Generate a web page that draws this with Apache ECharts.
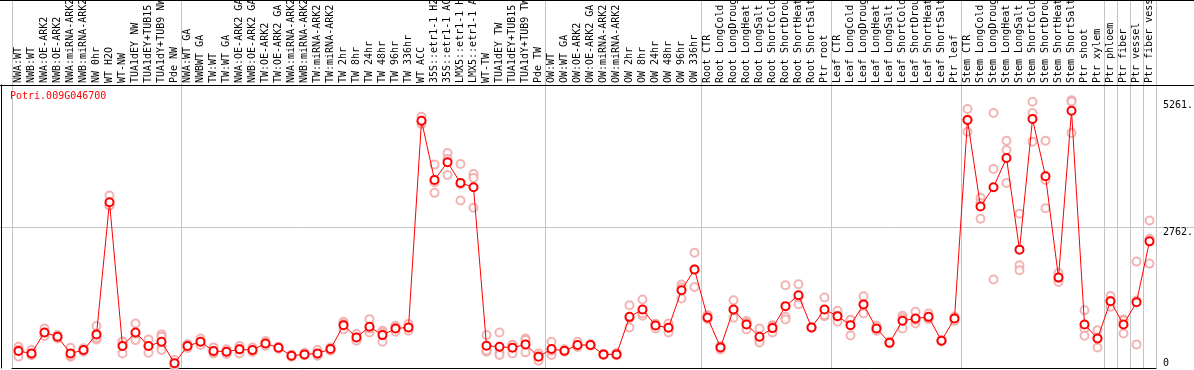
<!DOCTYPE html>
<html>
<head>
<meta charset="utf-8">
<script src="https://cdn.jsdelivr.net/npm/echarts@6/dist/echarts.min.js"></script>
<style>
html,body{margin:0;padding:0;background:#fff;}
#chart{width:1194px;height:370px;}
</style>
</head>
<body>
<div id="chart"></div>
<script>
var geneTitle = 'Potri.009G046700';

var categories = [
  'NWA:WT','NWB:WT','NWA:OE-ARK2','NWB:OE-ARK2','NWA:miRNA-ARK2','NWB:miRNA-ARK2','NW 0hr','WT H2O','WT-NW','TUA1dEY NW','TUA1dEY+TUB15 NW','TUA1dY+TUB9 NW','Pde NW',
  'NWA:WT GA','NWBWT GA','TW:WT','TW:WT GA','NWA:OE-ARK2 GA','NWB:OE-ARK2 GA','TW:OE-ARK2','TW:OE-ARK2 GA','NWA:miRNA-ARK2 GA','NWB:miRNA-ARK2 GA','TW:miRNA-ARK2','TW:miRNA-ARK2 GA',
  'TW 2hr','TW 8hr','TW 24hr','TW 48hr','TW 96hr','TW 336hr','WT ACC','35S::etr1-1 H2O','35S::etr1-1 ACC','LMX5::etr1-1 H2O','LMX5::etr1-1 ACC','WT-TW','TUA1dEY TW','TUA1dEY+TUB15 TW','TUA1dY+TUB9 TW','Pde TW',
  'OW:WT','OW:WT GA','OW:OE-ARK2','OW:OE-ARK2 GA','OW:miRNA-ARK2','OW:miRNA-ARK2 GA','OW 2hr','OW 8hr','OW 24hr','OW 48hr','OW 96hr','OW 336hr',
  'Root CTR','Root LongCold','Root LongDrought','Root LongHeat','Root LongSalt','Root ShortCold','Root ShortDrought','Root ShortHeat','Root ShortSalt','Ptr root',
  'Leaf CTR','Leaf LongCold','Leaf LongDrought','Leaf LongHeat','Leaf LongSalt','Leaf ShortCold','Leaf ShortDrought','Leaf ShortHeat','Leaf ShortSalt','Ptr leaf',
  'Stem CTR','Stem LongCold','Stem LongDrought','Stem LongHeat','Stem LongSalt','Stem ShortCold','Stem ShortDrought','Stem ShortHeat','Stem ShortSalt','Ptr shoot','Ptr xylem',
  'Ptr phloem','Ptr fiber','Ptr vessel','Ptr fiber vessel'
];

// index of the first category of each group (group separator lines)
var groupStarts = [0, 13, 41, 53, 63, 73, 84, 85, 86, 87];

var meanValues = [
  333, 287, 699, 614, 287, 353, 660, 3258, 431, 699, 431, 516, 92,
  431, 516, 333, 320, 366, 353, 483, 398, 242, 267, 287, 372,
  842, 601, 810, 646, 777, 797, 4858, 3696, 4042, 3637, 3552, 437, 418, 398, 464, 222,
  372, 339, 451, 451, 267, 267, 1005, 1149, 836, 790, 1528, 1933,
  992, 405, 1149, 855, 614, 784, 1215, 1430, 797, 1149,
  1019, 842, 1247, 777, 496, 927, 973, 1005, 535, 973,
  4871, 3173, 3552, 4127, 2325, 4891, 3767, 1776, 5054, 855, 581,
  1312, 855, 1293, 2488
];

var replicateValues = [
  [417, 222, 360], [353, 255, 253], [777, 627, 693], [646, 581, 614], [398, 222, 241], [386, 320, 353],
  [823, 562, 595], [3389, 3193, 3192], [483, 287, 523], [875, 548, 674], [562, 300, 431], [660, 614, 418, 353], [157, 26, 92],
  [470, 431, 392], [581, 451, 516], [405, 287, 307], [366, 274, 320], [431, 287, 380], [405, 313, 341],
  [529, 437, 483], [418, 378, 398], [262, 222, 242], [300, 250, 251], [353, 241, 267], [405, 340, 372],
  [907, 757, 862], [666, 535, 601], [960, 699, 771], [731, 516, 691], [830, 712, 789], [862, 732, 797],
  [4936, 4793, 4845], [3996, 3441, 3651], [4225, 3794, 4107], [4009, 3291, 3611], [3813, 3735, 3148],
  [646, 320, 345], [699, 300, 255], [451, 287, 456], [581, 548, 307], [287, 143, 236],
  [516, 255, 340], [366, 320, 331], [516, 420, 417], [470, 440, 443], [280, 255, 266], [300, 250, 251],
  [1234, 797, 984], [1346, 1025, 1076], [777, 870, 861], [875, 699, 797], [1639, 1365, 1580], [2266, 1593, 1940],
  [1039, 960, 979], [366, 425, 424], [1332, 986, 1129], [921, 757, 888], [777, 548, 503], [842, 699, 811],
  [1626, 1005, 953], [1646, 1254, 1390], [810, 790, 791], [1385, 1019, 1043],
  [1123, 907, 1026], [940, 640, 946], [1410, 1071, 1260], [830, 731, 770], [516, 480, 492], [1025, 777, 979],
  [1103, 875, 941], [1071, 960, 985], [550, 520, 535], [927, 1010, 982],
  [5087, 4643, 4883], [3344, 2932, 3243], [5009, 3912, 1738], [4466, 4284, 3637], [3030, 2018, 1920],
  [5230, 5009, 4447], [4466, 3141, 3694], [1866, 1690, 1772], [5261, 5236, 4617], [1136, 777, 633], [744, 405, 594],
  [1416, 1201, 1319], [953, 679, 933], [2090, 464, 1325], [2899, 2541, 2051]
];

var yTickValues = [0, 2762, 5261];
var yTickLabels = ['0', '2762.', '5261.'];
var yMax = 5560;

var monoFont = "'DejaVu Sans Mono', 'Liberation Mono', monospace";
var gridGray = '#c4c4c4';

var scatterData = [];
replicateValues.forEach(function (reps, i) {
  reps.forEach(function (v) { scatterData.push([i, v]); });
});

function isGroupStart(index) { return groupStarts.indexOf(index) >= 0; }

var chart = echarts.init(document.getElementById('chart'), null, {renderer: 'canvas'});

var option = {
  animation: false,
  backgroundColor: '#fff',
  title: {
    text: geneTitle,
    left: 10, top: 91, padding: 0,
    textStyle: {color: '#ff0000', fontSize: 10, fontWeight: 'normal', fontFamily: monoFont}
  },
  grid: [
    {left: 12, right: 38, top: 85, bottom: 2, containLabel: false, outerBoundsMode: 'none'},
    {left: 12, right: 38, top: 0, height: 85, containLabel: false, outerBoundsMode: 'none'}
  ],
  xAxis: [
    {
      type: 'category', gridIndex: 0, position: 'top', data: categories,
      boundaryGap: true,
      axisLine: {show: false},
      axisTick: {show: false},
      axisLabel: {
        show: true, interval: 0, rotate: 90, margin: 2, hideOverlap: false,
        fontSize: 10, fontFamily: monoFont, color: '#000'
      },
      splitLine: {show: true, interval: function (idx) { return isGroupStart(idx); },
        lineStyle: {color: gridGray, width: 1}}
    },
    {
      type: 'category', gridIndex: 0, position: 'bottom', data: categories,
      axisLine: {show: true, lineStyle: {color: '#000', width: 1}},
      axisTick: {show: false}, axisLabel: {show: false}, splitLine: {show: false}
    },
    {
      type: 'category', gridIndex: 1, position: 'bottom', data: categories,
      boundaryGap: true,
      axisLine: {show: false}, axisTick: {show: false}, axisLabel: {show: false},
      splitLine: {show: true, interval: function (idx) { return isGroupStart(idx); },
        lineStyle: {color: gridGray, width: 1}}
    }
  ],
  yAxis: [
    {
      type: 'value', gridIndex: 0, position: 'right', min: 0, max: yMax,
      axisLine: {show: false}, axisTick: {show: false}, splitLine: {show: false},
      axisLabel: {
        show: true, customValues: yTickValues, margin: 7,
        verticalAlign: 'top', verticalAlignMinLabel: 'bottom',
        fontSize: 10, fontFamily: monoFont, color: '#000',
        formatter: function (v) {
          var k = yTickValues.indexOf(v);
          return k >= 0 ? yTickLabels[k] : '';
        }
      }
    },
    {
      type: 'value', gridIndex: 0, position: 'left', offset: 11, min: 0, max: yMax,
      axisLine: {show: true, lineStyle: {color: '#000', width: 1}},
      axisTick: {show: false}, axisLabel: {show: false}, splitLine: {show: false}
    },
    {
      type: 'value', gridIndex: 1, show: false, min: 0, max: 1,
      splitLine: {show: false}
    }
  ],
  series: [
    {
      type: 'scatter', name: 'replicates', xAxisIndex: 0, yAxisIndex: 0,
      data: scatterData,
      symbol: 'emptyCircle', symbolSize: 8,
      itemStyle: {color: '#f0a0a0', borderColor: '#f0a0a0', borderWidth: 1.2},
      z: 2
    },
    {
      type: 'line', name: 'mean', xAxisIndex: 0, yAxisIndex: 0,
      data: meanValues,
      symbol: 'emptyCircle', symbolSize: 8, showAllSymbol: true,
      lineStyle: {color: '#ff0000', width: 1},
      itemStyle: {color: '#ff0000', borderColor: '#ff0000', borderWidth: 1.6},
      z: 3
    }
  ]
};

chart.setOption(option);

// frame lines spanning the full page width, placed through the axis scale
var yMid = chart.convertToPixel({yAxisIndex: 0}, 2762);
var yTop = chart.convertToPixel({yAxisIndex: 0}, yMax);
chart.setOption({
  graphic: [
    {type: 'line', silent: true, z: 0, shape: {x1: 0, y1: Math.round(yMid) + 0.5, x2: 1194, y2: Math.round(yMid) + 0.5},
      style: {stroke: gridGray, lineWidth: 1}},
    {type: 'line', silent: true, z: 10, shape: {x1: 0, y1: Math.round(yTop) + 0.5, x2: 1194, y2: Math.round(yTop) + 0.5},
      style: {stroke: '#000', lineWidth: 1}},
    {type: 'line', silent: true, z: 10, shape: {x1: 0, y1: 0.5, x2: 1194, y2: 0.5},
      style: {stroke: '#000', lineWidth: 1}}
  ]
});
</script>
</body>
</html>
